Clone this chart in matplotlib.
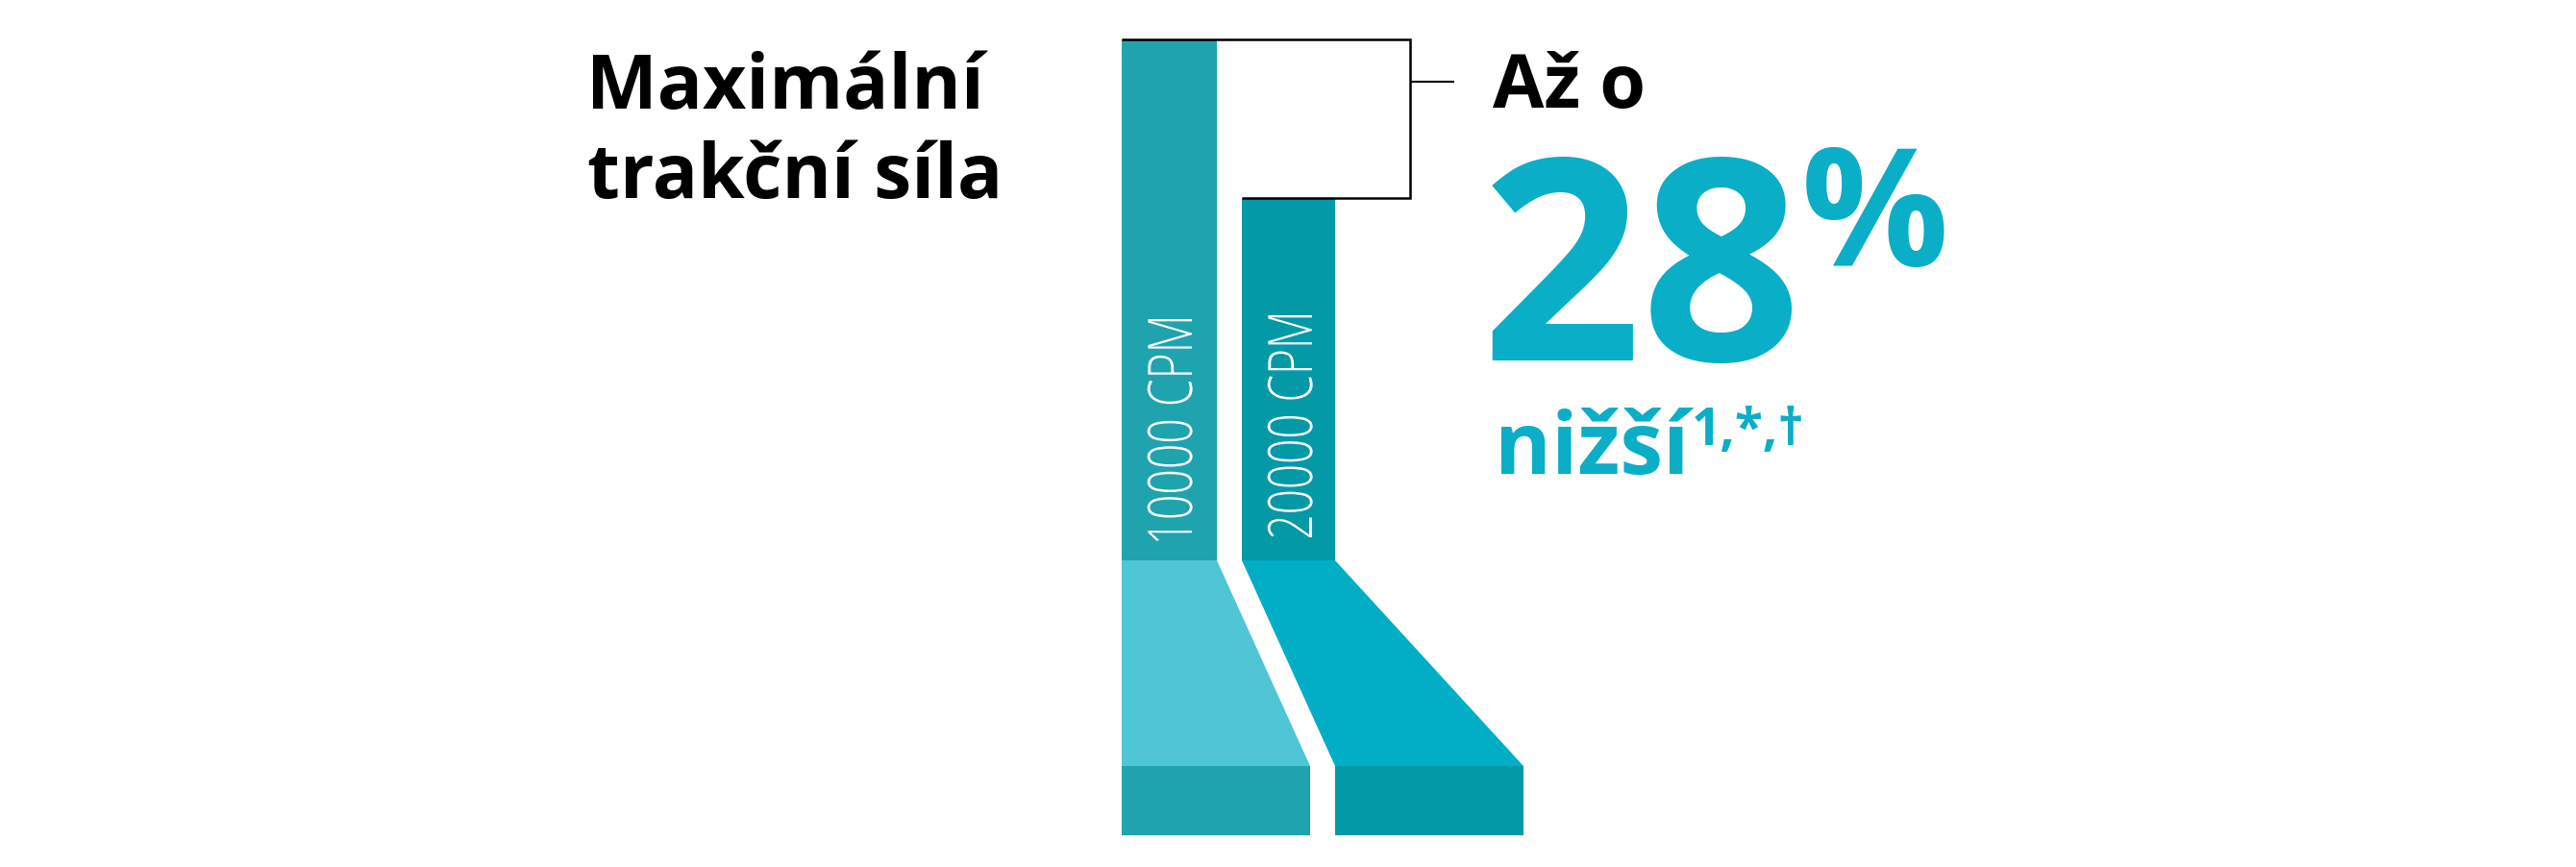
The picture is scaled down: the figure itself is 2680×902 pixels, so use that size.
import matplotlib
matplotlib.use("Agg")
import matplotlib.pyplot as plt
from matplotlib.font_manager import FontProperties, findfont
from matplotlib.textpath import TextPath
from matplotlib.patches import Polygon, Rectangle
from matplotlib.patheffects import AbstractPathEffect
from matplotlib.transforms import Affine2D

# ---------------- data ----------------
categories = ["10000 CPM", "20000 CPM"]
relative_force = [100.0, 69.6]          # traction force, % of the 10000 CPM value
headline_value = "28"
headline_unit = "%"
title_lines = ["Maximální", "trakční síla"]
lead_text = "Až o"
tail_text = "nižší"
footnote_marks = "1,*,†"

# ---------------- style ----------------
BAR_COLORS = ["#1fa3af", "#0399a7"]
FUNNEL_COLORS = ["#4fc5d6", "#02aec6"]
BLOCK_COLORS = ["#1fa3af", "#0399a7"]
ACCENT = "#0aaec7"

# ---------------- layout (pixels) ----------------
W, H, DPI = 2680, 902, 100
BASE_PX = 583            # bars start here (from top)
UNIT_PX = 5.42           # pixels per force unit
BAR_LEFT = [1167, 1292]
BAR_W = [99, 97]
FOOT_W = 196
FUNNEL_BOTTOM_PX = 797
BLOCK_BOTTOM_PX = 869
BRACKET_X = 1467
TICK_END = 1513
TICK_PX = 85


def val(px):
    return (BASE_PX - px) / UNIT_PX


fig = plt.figure(figsize=(W / DPI, H / DPI), dpi=DPI)
fig.patch.set_facecolor("white")
ax = fig.add_axes([0, 0, 1, 1])
ax.set_xlim(0, W)
ax.set_ylim(val(H), val(0))
ax.axis("off")

# bars
ax.bar(BAR_LEFT, relative_force, width=BAR_W, align="edge",
       color=BAR_COLORS, linewidth=0, zorder=2)

yb = val(FUNNEL_BOTTOM_PX)
yk = val(BLOCK_BOTTOM_PX)
l1, l2 = BAR_LEFT
r1, r2 = BAR_LEFT[0] + BAR_W[0], BAR_LEFT[1] + BAR_W[1]

funnels = [
    [(l1, 0), (r1, 0), (l1 + FOOT_W, yb), (l1, yb)],
    [(l2, 0), (r2, 0), (r2 + FOOT_W, yb), (r2, yb)],
]
for pts, c in zip(funnels, FUNNEL_COLORS):
    ax.add_patch(Polygon(pts, closed=True, facecolor=c, edgecolor="none", zorder=1))
for x0, c in zip([l1, r2], BLOCK_COLORS):
    ax.add_patch(Rectangle((x0, yk), FOOT_W, yb - yk, facecolor=c,
                           edgecolor="none", zorder=1))

# bracket
v0, v1 = relative_force
ax.plot([l1, BRACKET_X, BRACKET_X, l2], [v0, v0, v1, v1], color="black",
        lw=1.8, solid_joinstyle="miter", solid_capstyle="butt", zorder=3)
ax.plot([BRACKET_X, TICK_END], [val(TICK_PX)] * 2, color="black", lw=1.5,
        solid_capstyle="butt", zorder=3)

# ---------------- text helpers ----------------
FAM = ["Open Sans", "DejaVu Sans"]
fp_bold = FontProperties(family=FAM, weight="bold")


def pick_light():
    for fam in ["Open Sans", "Roboto", "Lato", "Noto Sans"]:
        try:
            f = findfont(FontProperties(family=fam, weight="light"),
                         fallback_to_default=False)
            if "light" in f.lower():
                return FontProperties(family=[fam, "DejaVu Sans"], weight="light")
        except Exception:
            pass
    return FontProperties(family=FAM, weight="normal")


fp_light = pick_light()


def ext(s, fp, size):
    return TextPath((0, 0), s, size=size, prop=fp).get_extents()


def fit(s, fp, ink_h):
    e = ext(s, fp, 100)
    return 100 * ink_h / e.height


def place(s, ref, fp, size, ref_left, ref_bottom, color, **kw):
    e = ext(ref, fp, size)
    x = ref_left - e.x0
    base = ref_bottom + e.y0
    ax.text(x, val(base), s, fontproperties=fp, fontsize=size * 72 / DPI,
            color=color, ha="left", va="baseline", zorder=4, **kw)


class Condense(AbstractPathEffect):
    def __init__(self, sx):
        super().__init__()
        self.sx = sx

    def draw_path(self, renderer, gc, tpath, affine, rgbFace=None):
        renderer.draw_path(gc, tpath, Affine2D().scale(self.sx, 1.0) + affine, rgbFace)


# title
ts = fit("M", fp_bold, 56)
place(title_lines[0], "M", fp_bold, ts, 617, 113, "black")
place(title_lines[1], "t", fp_bold, ts, 613, 207, "black")

# "Až o"
place(lead_text, "A", fp_bold, fit("A", fp_bold, 55.5), 1553, 112, "black")

# "28" "%"
hs = fit("2", fp_bold, 212)
place(headline_value, "2", fp_bold, hs, 1552, 375, ACCENT)
place(headline_unit, "%", fp_bold, fit("%", fp_bold, 125), 1879, 278, ACCENT)

# "nižší" + marks
place(tail_text, "n", fp_bold, fit("n", fp_bold, 50), 1562, 493, ACCENT)
place(footnote_marks, "1", fp_bold, fit("1", fp_bold, 38), 1763, 463, ACCENT)

# rotated CPM labels inside bars
label_base_x = [1240, 1365]
label_start_px = [563, 559]
LABEL_LEN = 231
cs = fit("10000", fp_light, 47)
for lab, bx, sy in zip(categories, label_base_x, label_start_px):
    e = ext(lab, fp_light, cs)
    sx = LABEL_LEN / e.width
    ax.text(bx, val(sy + e.x0 * sx), lab, fontproperties=fp_light,
            fontsize=cs * 72 / DPI, color="white", rotation=90,
            rotation_mode="anchor", ha="left", va="baseline", zorder=4,
            path_effects=[Condense(sx)])

fig.savefig("out.png", dpi=DPI, facecolor="white")
